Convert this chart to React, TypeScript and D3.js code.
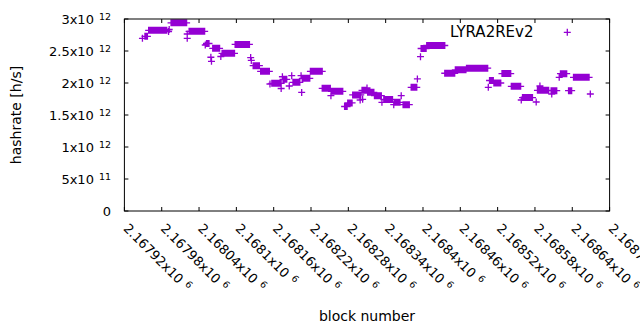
import React from 'react';
import * as d3 from 'd3';

// runs of consecutive blocks with the same hashrate (x10^12 h/s)
const runStart = [
  2167949, 2167953, 2167959, 2167992, 2167991, 2167995, 2168021, 2168021, 2168024, 2168050,
  2168052, 2168062, 2168059, 2168060, 2168075, 2168077, 2168098, 2168123, 2168124, 2168127,
  2168139, 2168154, 2168157, 2168172, 2168174, 2168175, 2168185, 2168189, 2168191, 2168205,
  2168204, 2168206, 2168219, 2168238, 2168252, 2168253, 2168274, 2168279, 2168287, 2168299,
  2168303, 2168302, 2168310, 2168311, 2168322, 2168334, 2168337, 2168353, 2168354, 2168365,
  2168368, 2168381, 2168391, 2168396, 2168397, 2168406, 2168435, 2168452, 2168470, 2168505,
  2168507, 2168514, 2168527, 2168542, 2168558, 2168560, 2168582, 2168584, 2168588, 2168607,
  2168606, 2168619, 2168621, 2168634, 2168642, 2168669,
];
const runEnd = [
  2167949, 2167957, 2167988, 2167992, 2167991, 2168020, 2168021, 2168021, 2168049, 2168050,
  2168056, 2168073, 2168059, 2168060, 2168075, 2168097, 2168121, 2168123, 2168124, 2168137,
  2168153, 2168154, 2168172, 2168172, 2168174, 2168181, 2168185, 2168189, 2168202, 2168205,
  2168204, 2168218, 2168238, 2168251, 2168252, 2168271, 2168278, 2168286, 2168300, 2168299,
  2168303, 2168309, 2168310, 2168321, 2168333, 2168334, 2168351, 2168353, 2168363, 2168365,
  2168378, 2168390, 2168391, 2168396, 2168405, 2168435, 2168451, 2168469, 2168504, 2168505,
  2168513, 2168525, 2168541, 2168557, 2168558, 2168576, 2168582, 2168602, 2168588, 2168607,
  2168615, 2168619, 2168631, 2168639, 2168667, 2168669,
];
const runHash = [
  2.698, 2.73, 2.823, 2.836, 2.805, 2.941, 2.766, 2.698, 2.808, 2.594,
  2.617, 2.542, 2.402, 2.339, 2.414, 2.464, 2.602, 2.398, 2.352, 2.27,
  2.183, 1.984, 1.995, 1.914, 2.098, 2.058, 1.953, 2.114, 2.011, 1.852,
  2.114, 2.073, 2.183, 1.917, 1.802, 1.87, 1.633, 1.688, 1.813, 1.734,
  1.745, 1.886, 1.922, 1.855, 1.802, 1.698, 1.742, 1.661, 1.698, 1.802,
  1.661, 1.933, 2.063, 2.411, 2.539, 2.586, 2.152, 2.206, 2.231, 1.933,
  2.039, 2.0, 2.148, 1.948, 1.734, 1.773, 1.703, 1.886, 1.953, 1.828,
  1.88, 2.089, 2.145, 1.88, 2.089, 1.828,
];

const xTicks = [
  2167920, 2167980, 2168040, 2168100, 2168160, 2168220, 2168280,
  2168340, 2168400, 2168460, 2168520, 2168580, 2168640, 2168700,
];
const xTickLabels = [
  '2.16792', '2.16798', '2.16804', '2.1681', '2.16816', '2.16822', '2.16828',
  '2.16834', '2.1684', '2.16846', '2.16852', '2.16858', '2.16864', '2.1687',
];
const yTicks = [0, 0.5e12, 1e12, 1.5e12, 2e12, 2.5e12, 3e12];
const yTickLabels = ['0', '5x10', '1x10', '1.5x10', '2x10', '2.5x10', '3x10'];
const yTickExp = ['', '11', '12', '12', '12', '12', '12'];

const seriesName = 'LYRA2REv2';

const W = 640;
const H = 330;
const left = 124.4;
const right = 609.6;
const top = 19;
const bottom = 211;
const color = '#9400d3';
const font = 'DejaVu Sans, sans-serif';

const App = () => {
  const x = d3.scaleLinear().domain([2167920, 2168700]).range([left, right]);
  const y = d3.scaleLinear().domain([0, 3e12]).range([bottom, top]);

  // every block in a run gets a "+" marker
  const pts: [number, number][] = [];
  runStart.forEach((s, i) => {
    for (let b = s; b <= runEnd[i]; b++) pts.push([b, runHash[i] * 1e12]);
  });
  const arm = 3.5;
  const plus = (px: number, py: number) =>
    `M${px - arm},${py}h${arm * 2}M${px},${py - arm}v${arm * 2}`;
  const d = pts.map((p) => plus(x(p[0]), y(p[1]))).join('');

  const tick = 4;

  return (
    <svg
      width={W}
      height={H}
      style={{ position: 'absolute', left: 0, top: 0, background: '#fff' }}
    >
      <rect x={0} y={0} width={W} height={H} fill='#fff' />

      <path d={d} fill='none' stroke={color} strokeWidth={1.3} />

      {/* frame + ticks */}
      <g stroke='#000' strokeWidth={1} fill='none'>
        {yTicks.map((t, i) => (
          <g key={'yt' + i}>
            <line x1={left} x2={left + tick} y1={y(t)} y2={y(t)} />
            <line x1={right} x2={right - tick} y1={y(t)} y2={y(t)} />
          </g>
        ))}
        {xTicks.map((t, i) => (
          <g key={'xt' + i}>
            <line x1={x(t)} x2={x(t)} y1={bottom} y2={bottom - tick} />
            <line x1={x(t)} x2={x(t)} y1={top} y2={top + tick} />
          </g>
        ))}
        <rect x={left} y={top} width={right - left} height={bottom - top} />
      </g>

      {/* y tick labels */}
      <g fontFamily={font} fontSize={13} fill='#000'>
        {yTicks.map((t, i) => (
          <text key={'yl' + i} x={111} y={y(t) + 5} textAnchor='end'>
            {yTickLabels[i]}
            {yTickExp[i] && (
              <tspan dx={5} dy={-4.5} fontSize={9.5}>
                {yTickExp[i]}
              </tspan>
            )}
          </text>
        ))}
      </g>

      {/* x tick labels, rotated */}
      <g fontFamily={font} fontSize={13} fill='#000'>
        {xTicks.map((t, i) => (
          <text
            key={'xl' + i}
            transform={`translate(${x(t) + 1.5},${226}) rotate(45)`}
            dy='0.35em'
          >
            {xTickLabels[i] + 'x10'}
            <tspan dx={5} dy={-4.5} fontSize={9.5}>
              6
            </tspan>
          </text>
        ))}
      </g>

      <text
        transform={`translate(20.5,${(top + bottom) / 2}) rotate(-90)`}
        textAnchor='middle'
        fontFamily={font}
        fontSize={14}
      >
        hashrate [h/s]
      </text>
      <text x={(left + right) / 2} y={321} textAnchor='middle' fontFamily={font} fontSize={14}>
        block number
      </text>

      {/* legend */}
      <text x={533.5} y={37} textAnchor='end' fontFamily={font} fontSize={15}>
        {seriesName}
      </text>
      <path d={plus(567.3, 32.3)} stroke={color} strokeWidth={1.3} fill='none' />
    </svg>
  );
};

export default App;
